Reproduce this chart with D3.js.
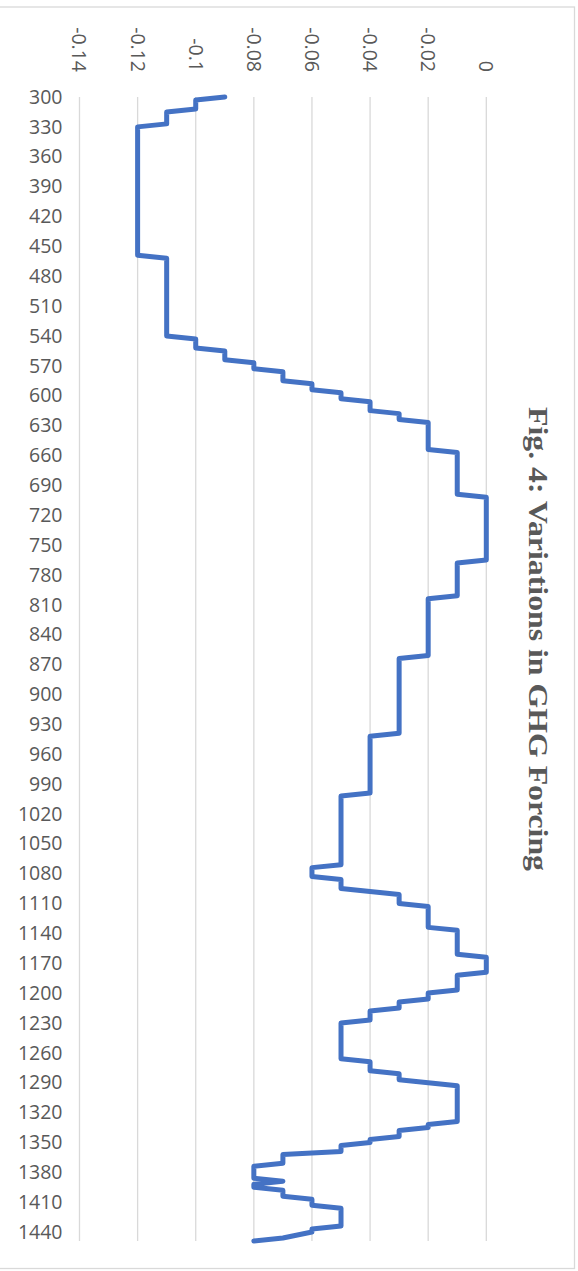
<!DOCTYPE html>
<html>
<head>
<meta charset="utf-8">
<script src="https://cdn.jsdelivr.net/npm/d3@7"></script>
<style>
  html, body { margin: 0; padding: 0; background: #ffffff; }
  svg { display: block; }
</style>
</head>
<body>
<svg id="chart" width="578" height="1271"></svg>
<script>
// ---- data (years on the category axis, GHG forcing values) ----
const runStartYears = [300, 303, 315, 330, 462, 543, 555, 567, 576, 588, 597, 606, 618, 627, 657, 702, 768, 804, 864, 942, 1002, 1074, 1086, 1098, 1101, 1113, 1137, 1164, 1182, 1200, 1209, 1218, 1230, 1269, 1281, 1290, 1293, 1332, 1338, 1347, 1353, 1362, 1374, 1389, 1392, 1398, 1407, 1416, 1437, 1446, 1449];
const runEndYears   = [300, 312, 327, 459, 540, 552, 564, 573, 585, 594, 603, 615, 624, 654, 699, 765, 801, 861, 939, 999, 1071, 1083, 1095, 1098, 1110, 1134, 1161, 1179, 1197, 1206, 1215, 1227, 1266, 1278, 1287, 1290, 1329, 1335, 1344, 1350, 1359, 1371, 1386, 1389, 1395, 1404, 1413, 1434, 1440, 1446, 1449];
const runValues     = [-0.09, -0.10, -0.11, -0.12, -0.11, -0.10, -0.09, -0.08, -0.07, -0.06, -0.05, -0.04, -0.03, -0.02, -0.01, 0, -0.01, -0.02, -0.03, -0.04, -0.05, -0.06, -0.05, -0.04, -0.03, -0.02, -0.01, 0, -0.01, -0.02, -0.03, -0.04, -0.05, -0.04, -0.03, -0.02, -0.01, -0.02, -0.03, -0.04, -0.05, -0.07, -0.08, -0.07, -0.08, -0.07, -0.06, -0.05, -0.06, -0.07, -0.08];

const categoryTicks = [300, 330, 360, 390, 420, 450, 480, 510, 540, 570, 600, 630, 660, 690, 720, 750, 780, 810, 840, 870, 900, 930, 960, 990, 1020, 1050, 1080, 1110, 1140, 1170, 1200, 1230, 1260, 1290, 1320, 1350, 1380, 1410, 1440];
const valueTicks = [-0.14, -0.12, -0.10, -0.08, -0.06, -0.04, -0.02, 0];
const valueTickLabels = ["-0.14", "-0.12", "-0.1", "-0.08", "-0.06", "-0.04", "-0.02", "0"];
const yearDomain = [300, 1449];
const valueDomain = [-0.14, 0];
const titleText = "Fig. 4: Variations in GHG Forcing";

// ---- layout ----
const svg = d3.select("#chart");
const plotLeft = 79.5, plotRight = 486.3, plotTop = 97, plotBottom = 1241;

const x = d3.scaleLinear().domain(valueDomain).range([plotLeft, plotRight]);
const y = d3.scaleLinear().domain(yearDomain).range([plotTop, plotBottom]);

// chart border
svg.append("rect")
  .attr("x", -1).attr("y", 7)
  .attr("width", 575.5).attr("height", 1261.5)
  .attr("fill", "none").attr("stroke", "#d9d9d9").attr("stroke-width", 1.3);

// gridlines
svg.append("g").selectAll("line").data(valueTicks).join("line")
  .attr("x1", d => x(d)).attr("x2", d => x(d))
  .attr("y1", plotTop).attr("y2", plotBottom)
  .attr("stroke", "#d9d9d9").attr("stroke-width", 1.3);

// category axis (left)
const yAxis = d3.axisLeft(y).tickValues(categoryTicks).tickSize(0).tickPadding(17).tickFormat(d3.format("d"));
const gy = svg.append("g").attr("transform", `translate(${plotLeft},0)`).call(yAxis);
gy.select(".domain").remove();
gy.selectAll("text")
  .attr("fill", "#595959")
  .style("font-family", "'Open Sans', 'Noto Sans', sans-serif")
  .style("font-size", "19.5px");

// value axis labels (top, rotated)
const gx = svg.append("g");
gx.selectAll("text").data(valueTicks).join("text")
  .attr("transform", d => `translate(${x(d)},72) rotate(90)`)
  .attr("text-anchor", "end")
  .attr("dy", "0.36em")
  .attr("fill", "#595959")
  .style("font-family", "'Open Sans', 'Noto Sans', sans-serif")
  .style("font-size", "19.5px")
  .text((d, i) => valueTickLabels[i]);

// line
const pts = [];
runValues.forEach((v, i) => {
  pts.push([runStartYears[i], v]);
  if (runEndYears[i] !== runStartYears[i]) pts.push([runEndYears[i], v]);
});
const line = d3.line().x(d => x(d[1])).y(d => y(d[0]));
svg.append("path")
  .datum(pts)
  .attr("d", line)
  .attr("fill", "none")
  .attr("stroke", "#4472c4")
  .attr("stroke-width", 5)
  .attr("stroke-linejoin", "round")
  .attr("stroke-linecap", "round");

// title (rotated)
svg.append("text")
  .attr("transform", "translate(529,639) rotate(90)")
  .attr("text-anchor", "middle")
  .attr("fill", "#595959")
  .style("font-family", "'Times New Roman', 'Liberation Serif', serif")
  .style("font-weight", "bold")
  .style("font-size", "27px")
  .attr("textLength", 464)
  .attr("lengthAdjust", "spacingAndGlyphs")
  .text(titleText);
</script>
</body>
</html>
